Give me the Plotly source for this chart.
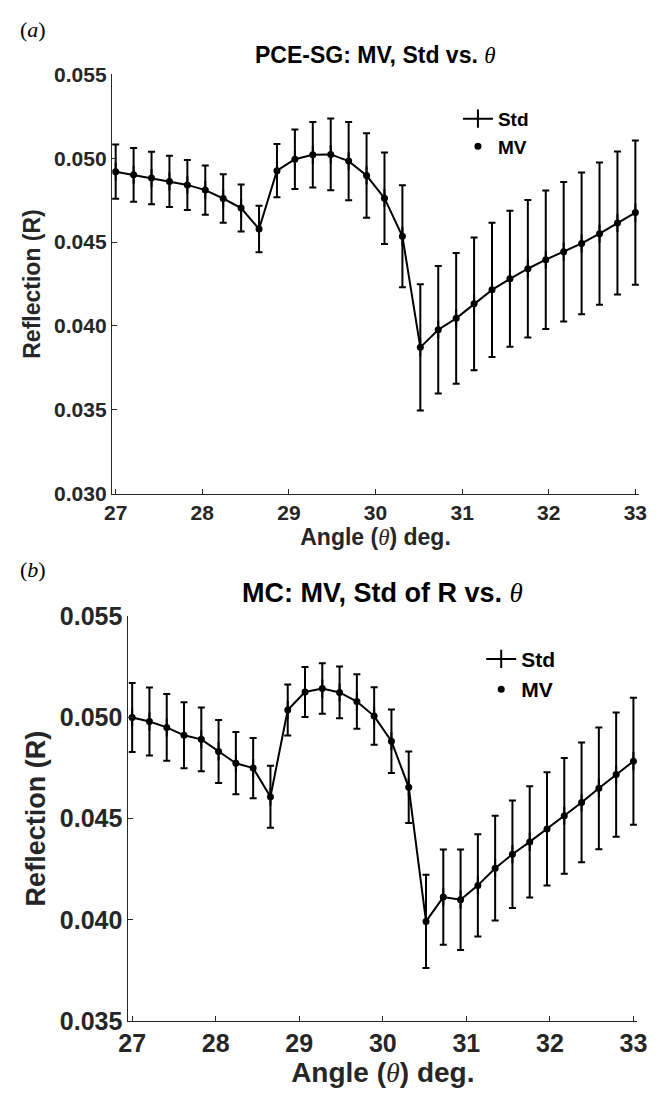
import numpy as np
import plotly.graph_objects as go

# ---------------- data ----------------
angle = np.linspace(27, 33, 30)

pce_mv = [0.04920, 0.04901, 0.04882, 0.04862, 0.04841, 0.04810, 0.04760, 0.04703,
          0.04578, 0.04926, 0.04994, 0.05021, 0.05023, 0.04983, 0.04897, 0.04762,
          0.04535, 0.03872, 0.03977, 0.04045, 0.04132, 0.04215, 0.04281, 0.04341,
          0.04395, 0.04442, 0.04492, 0.04550, 0.04614, 0.04676]
pce_std = [0.00162, 0.00160, 0.00157, 0.00153, 0.00149, 0.00147, 0.00145, 0.00140,
           0.00138, 0.00159, 0.00177, 0.00195, 0.00214, 0.00233, 0.00252, 0.00273,
           0.00304, 0.00376, 0.00380, 0.00390, 0.00396, 0.00401, 0.00406, 0.00410,
           0.00413, 0.00416, 0.00423, 0.00424, 0.00427, 0.00430]

mc_mv = [0.05000, 0.04980, 0.04951, 0.04912, 0.04892, 0.04832, 0.04774, 0.04750,
         0.04608, 0.05037, 0.05126, 0.05143, 0.05124, 0.05079, 0.05007, 0.04883,
         0.04655, 0.03992, 0.04112, 0.04099, 0.04170, 0.04255, 0.04324, 0.04385,
         0.04449, 0.04514, 0.04580, 0.04650, 0.04718, 0.04784]
mc_std = [0.00170, 0.00168, 0.00165, 0.00163, 0.00158, 0.00156, 0.00154, 0.00149,
          0.00153, 0.00126, 0.00124, 0.00125, 0.00128, 0.00135, 0.00142, 0.00157,
          0.00177, 0.00231, 0.00235, 0.00248, 0.00253, 0.00259, 0.00266, 0.00275,
          0.00280, 0.00286, 0.00296, 0.00301, 0.00307, 0.00314]

x_ticks = [27, 28, 29, 30, 31, 32, 33]
y_ticks_a = [0.030, 0.035, 0.040, 0.045, 0.050, 0.055]
y_ticks_b = [0.035, 0.040, 0.045, 0.050, 0.055]

W, H = 657, 1108
FONT = "Liberation Sans, Arial, Helvetica, sans-serif"
THETA = '<span style="font-family:Liberation Serif;font-weight:normal"><i>θ</i></span>'
AXC = "#262626"
PAD = 0.045  # small x padding so edge error bars are not clipped

fig = go.Figure()


def px_x(p):
    return p / W


def px_y(p):
    return 1 - p / H


def xdomain(left_px, right_px):
    per = (right_px - left_px) / 6.0
    return [px_x(left_px - PAD * per), px_x(right_px + PAD * per)]


STD_MARKER = dict(symbol="line-ns", size=13, color="black",
                  line=dict(color="black", width=2))

# ---------- panel (a) ----------
fig.add_trace(go.Scatter(
    x=angle, y=pce_mv, mode="lines+markers", name="Std",
    line=dict(color="black", width=2), marker=STD_MARKER,
    error_y=dict(type="data", array=pce_std, visible=True, color="black",
                 thickness=2, width=3.5),
    xaxis="x", yaxis="y", legend="legend", cliponaxis=False))
fig.add_trace(go.Scatter(
    x=angle, y=pce_mv, mode="markers", name="MV",
    marker=dict(color="black", size=7),
    xaxis="x", yaxis="y", legend="legend", cliponaxis=False))

# ---------- panel (b) ----------
fig.add_trace(go.Scatter(
    x=angle, y=mc_mv, mode="lines+markers", name="Std",
    line=dict(color="black", width=2), marker=STD_MARKER,
    error_y=dict(type="data", array=mc_std, visible=True, color="black",
                 thickness=2, width=3.5),
    xaxis="x2", yaxis="y2", legend="legend2", cliponaxis=False))
fig.add_trace(go.Scatter(
    x=angle, y=mc_mv, mode="markers", name="MV",
    marker=dict(color="black", size=7),
    xaxis="x2", yaxis="y2", legend="legend2", cliponaxis=False))


def xax(domain, anchor, fsize, title_size, standoff):
    return dict(domain=domain, anchor=anchor, range=[27 - PAD, 33 + PAD], tickvals=x_ticks,
                ticks="inside", ticklen=5, tickcolor=AXC, showline=True,
                linecolor=AXC, linewidth=1, showgrid=False, zeroline=False,
                tickfont=dict(family=FONT, size=fsize, color="#262626", weight="bold"),
                title=dict(text=f"<b>Angle (</b>{THETA}<b>) deg.</b>",
                           font=dict(family=FONT, size=title_size, color="#262626"),
                           standoff=standoff))


def yax(domain, anchor, rng, vals, fsize, title_size, standoff):
    return dict(domain=domain, anchor=anchor, range=rng, tickvals=vals,
                tickformat=".3f",
                ticks="inside", ticklen=5, tickcolor=AXC, showline=True,
                linecolor=AXC, linewidth=1, showgrid=False, zeroline=False,
                tickfont=dict(family=FONT, size=fsize, color="#262626", weight="bold"),
                title=dict(text="<b>Reflection (R)</b>",
                           font=dict(family=FONT, size=title_size, color="#262626"),
                           standoff=standoff))


fig.update_layout(
    width=W, height=H,
    margin=dict(l=0, r=0, t=0, b=0),
    paper_bgcolor="white", plot_bgcolor="white",
    font=dict(family=FONT, color="black"),
    xaxis=xax(xdomain(109, 645), "y", 21, 23, 2),
    yaxis=yax([px_y(492), px_y(62)], "x", [0.030, 0.055], y_ticks_a, 21, 23, 6),
    xaxis2=xax(xdomain(126, 643), "y2", 25, 28, 2),
    yaxis2=yax([px_y(1033), px_y(618)], "x2", [0.035, 0.055], y_ticks_b, 25, 27, 6),
    legend=dict(x=px_x(462), y=px_y(88), xanchor="left", yanchor="top",
                bgcolor="rgba(0,0,0,0)", itemwidth=30, tracegroupgap=0,
                font=dict(family=FONT, size=19, color="black", weight="bold")),
    legend2=dict(x=px_x(486), y=px_y(641), xanchor="left", yanchor="top",
                 bgcolor="rgba(0,0,0,0)", itemwidth=30, tracegroupgap=0,
                 font=dict(family=FONT, size=21, color="black", weight="bold")),
    showlegend=True,
)

annotations = [
    dict(text=f"<b>PCE-SG: MV, Std vs. </b>{THETA}", x=px_x(377), y=px_y(42),
         xref="paper", yref="paper", showarrow=False, xanchor="center", yanchor="middle",
         font=dict(family=FONT, size=23, color="black")),
    dict(text=f"<b>MC: MV, Std of R vs. </b>{THETA}", x=px_x(384), y=px_y(594),
         xref="paper", yref="paper", showarrow=False, xanchor="center", yanchor="middle",
         font=dict(family=FONT, size=27, color="black")),
    dict(text="(<i>a</i>)", x=px_x(8), y=px_y(16),
         xref="paper", yref="paper", showarrow=False, xanchor="left", yanchor="middle",
         font=dict(family="Liberation Serif, Times New Roman, serif", size=22, color="black")),
    dict(text="(<i>b</i>)", x=px_x(8), y=px_y(570),
         xref="paper", yref="paper", showarrow=False, xanchor="left", yanchor="middle",
         font=dict(family="Liberation Serif, Times New Roman, serif", size=22, color="black")),
]
fig.update_layout(annotations=annotations)

fig.write_html("out.html")
